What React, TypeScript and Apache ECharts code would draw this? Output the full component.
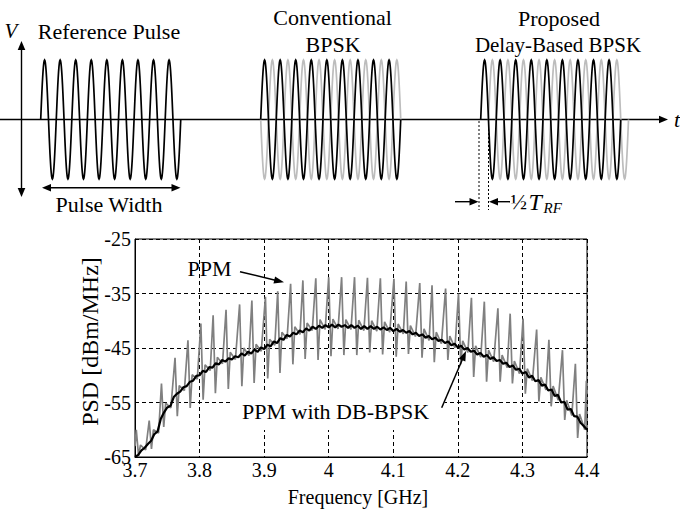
import React, { useEffect, useRef } from 'react';
import * as echarts from 'echarts';

// ---------- PSD data ----------
const xTicks = [3.7, 3.8, 3.9, 4.0, 4.1, 4.2, 4.3, 4.4];
const yTicks = [-65, -55, -45, -35, -25];

// PPM with DB-BPSK (black), sampled every 0.005 GHz from 3.700 GHz
const dbStart = 3.7;
const dbStep = 0.005;
const dbBpskValues = [
  -65.0, -64.6, -63.8, -63.3, -62.6, -62.0, -60.8, -60.3, -58.0, -56.8,
  -55.9, -55.6, -54.0, -53.4, -53.0, -52.2, -52.0, -51.2, -51.0, -50.1,
  -50.0, -49.2, -49.4, -48.5, -48.6, -47.8, -48.0, -47.2, -47.5, -46.9,
  -47.1, -46.5, -46.7, -46.0, -46.4, -45.7, -46.0, -45.3, -45.7, -44.9,
  -45.2, -44.4, -44.7, -43.8, -44.1, -43.2, -43.5, -42.6, -42.9, -42.2,
  -42.5, -41.8, -42.1, -41.4, -41.8, -41.1, -41.5, -40.9, -41.3, -40.8,
  -41.2, -40.7, -41.2, -40.7, -41.1, -40.8, -41.3, -40.8, -41.3, -40.9,
  -41.5, -41.0, -41.5, -41.0, -41.5, -41.1, -41.6, -41.2, -41.7, -41.3,
  -41.9, -41.5, -42.0, -41.7, -42.2, -41.9, -42.5, -42.2, -42.8, -42.5,
  -43.1, -42.8, -43.4, -43.1, -43.7, -43.5, -44.1, -43.8, -44.5, -44.2,
  -44.9, -44.6, -45.3, -45.0, -45.7, -45.5, -46.2, -45.9, -46.6, -46.3,
  -47.0, -46.7, -47.4, -47.2, -47.9, -47.7, -48.5, -48.2, -49.0, -48.8,
  -49.7, -49.4, -50.4, -50.1, -51.1, -50.9, -51.9, -51.7, -52.8, -52.6,
  -53.8, -53.6, -55.0, -54.9, -56.3, -56.2, -57.5, -57.6, -58.7, -59.3,
  -60.0,
];

// PPM (gray): one spike per period
const ppmSpikeFreq = [
  3.702, 3.722, 3.741, 3.762, 3.782, 3.802, 3.821, 3.841, 3.862, 3.881,
  3.902, 3.921, 3.941, 3.960, 3.980, 4.000, 4.020, 4.040, 4.060, 4.080,
  4.101, 4.120, 4.141, 4.160, 4.181, 4.201, 4.221, 4.241, 4.262, 4.281,
  4.301, 4.322, 4.341, 4.362, 4.382, 4.399,
];
const ppmPeak = [
  -60.0, -58.3, -51.5, -46.8, -43.6, -40.5, -39.0, -38.0, -37.0, -36.3,
  -35.6, -34.6, -33.2, -32.6, -32.2, -32.0, -32.0, -32.0, -32.1, -32.2,
  -32.3, -32.8, -33.1, -33.5, -34.1, -35.0, -35.8, -36.5, -37.7, -38.7,
  -39.6, -41.6, -43.5, -45.4, -47.9, -51.0,
];
const ppmDip = [
  -64.8, -63.5, -59.5, -57.5, -56.0, -54.5, -53.3, -52.5, -52.0, -51.4,
  -50.6, -49.6, -48.0, -47.0, -47.2, -46.5, -46.3, -46.3, -45.8, -46.2,
  -46.6, -46.1, -46.8, -47.6, -47.2, -48.0, -50.3, -51.2, -51.2, -51.5,
  -53.4, -54.8, -55.7, -58.2, -61.5,
];
const ppmRise = [
  -62.8, -60.0, -55.1, -51.9, -49.9, -48.1, -46.7, -45.8, -45.0, -44.3,
  -43.4, -42.1, -41.1, -40.4, -39.8, -39.7, -39.8, -39.9, -40.0, -40.2,
  -40.6, -40.9, -41.5, -42.1, -42.8, -43.7, -44.6, -45.4, -46.3, -47.4,
  -48.8, -50.4, -52.0, -54.6, -57.1,
];
const ppmNotch = [
  -63.7, -60.6, -56.0, -52.8, -50.7, -49.1, -47.9, -47.1, -46.4, -45.6,
  -44.5, -43.3, -42.5, -41.8, -41.6, -41.5, -41.6, -41.8, -41.9, -42.1,
  -42.4, -42.9, -43.6, -44.2, -45.0, -45.8, -46.7, -47.5, -48.6, -49.7,
  -51.0, -52.7, -54.6, -57.4, -60.0,
];
const ppmFirst = [3.7, -63.0];
const ppmLast = [4.4, -53.5];

// ---------- illustration (top) ----------
const pulseCycles = 9;

const SERIF = '"Liberation Serif", "Times New Roman", Times, serif';

function sineWave(x0: number, cycles: number, period: number, amp: number, yc: number, sign: number) {
  const pts: number[][] = [];
  const per = 40;
  const n = cycles * per;
  for (let i = 0; i <= n; i++) {
    const t = i / per;
    pts.push([x0 + t * period, yc - sign * amp * Math.sin(2 * Math.PI * t)]);
  }
  return pts;
}

function arrowHead(x1: number, y1: number, x2: number, y2: number, len: number, half: number) {
  const dx = x2 - x1, dy = y2 - y1;
  const L = Math.sqrt(dx * dx + dy * dy);
  const ux = dx / L, uy = dy / L;
  const bx = x2 - ux * len, by = y2 - uy * len;
  return [[x2, y2], [bx - uy * half, by + ux * half], [bx + uy * half, by - ux * half]];
}

function arrow(x1: number, y1: number, x2: number, y2: number, len = 9, half = 3.6, w = 1.4) {
  const dx = x2 - x1, dy = y2 - y1;
  const L = Math.sqrt(dx * dx + dy * dy);
  const ex = x2 - (dx / L) * (len - 1), ey = y2 - (dy / L) * (len - 1);
  return [
    { type: 'line', z: 10, silent: true, shape: { x1, y1, x2: ex, y2: ey }, style: { stroke: '#000', lineWidth: w } },
    { type: 'polygon', z: 10, silent: true, shape: { points: arrowHead(x1, y1, x2, y2, len, half) }, style: { fill: '#000' } },
  ];
}

function txt(text: string, x: number, y: number, size: number, opts: any = {}) {
  return {
    type: 'text', z: 10, silent: true, x, y,
    rotation: opts.rotation || 0,
    style: {
      text, fill: '#000', fontSize: size, fontFamily: SERIF,
      align: opts.align || 'center', verticalAlign: 'middle',
      textAlign: opts.align || 'center', textVerticalAlign: 'middle',
      fontStyle: opts.italic ? 'italic' : 'normal',
    },
  };
}

export default function App() {
  const ref = useRef<HTMLDivElement>(null);

  useEffect(() => {
    document.body.style.margin = '0';
    if (!ref.current) return;
    const chart = echarts.init(ref.current, null, { renderer: 'svg' });

    const dbData = dbBpskValues.map((v, i) => [dbStart + i * dbStep, v]);
    const ppmData: number[][] = [ppmFirst];
    ppmSpikeFreq.forEach((f, i) => {
      ppmData.push([f, ppmPeak[i]]);
      if (i < ppmDip.length) {
        ppmData.push([f + 0.0035, ppmDip[i]]);
        ppmData.push([f + 0.0065, ppmRise[i]]);
        ppmData.push([f + 0.0145, ppmNotch[i]]);
      }
    });
    ppmData.push(ppmLast);

    const yc = 119.5, amp = 59.5, period = 15.56;
    const waveBlack = { stroke: '#000', lineWidth: 1.7, fill: null };
    const waveGray = { stroke: '#bdbdbd', lineWidth: 1.7, fill: null };
    const poly = (pts: number[][], style: any) => ({ type: 'polyline', z: 5, silent: true, shape: { points: pts }, style });

    const graphics: any[] = [
      // time axis
      { type: 'line', z: 4, silent: true, shape: { x1: 0, y1: yc, x2: 660, y2: yc }, style: { stroke: '#000', lineWidth: 1.4 } },
      { type: 'polygon', z: 4, silent: true, shape: { points: arrowHead(600, yc, 668, yc, 9, 3.8) }, style: { fill: '#000' } },
      // voltage axis
      { type: 'line', z: 4, silent: true, shape: { x1: 21.5, y1: 48, x2: 21.5, y2: 190 }, style: { stroke: '#000', lineWidth: 1.4 } },
      { type: 'polygon', z: 4, silent: true, shape: { points: arrowHead(21.5, 100, 21.5, 41, 9, 3.8) }, style: { fill: '#000' } },
      { type: 'polygon', z: 4, silent: true, shape: { points: arrowHead(21.5, 100, 21.5, 197, 9, 3.8) }, style: { fill: '#000' } },
      // reference pulse
      poly(sineWave(40.7, pulseCycles, period, amp, yc, 1), waveBlack),
      // conventional BPSK
      poly(sineWave(260.7, pulseCycles, period, amp, yc, -1), waveGray),
      poly(sineWave(260.7, pulseCycles, period, amp, yc, 1), waveBlack),
      // delay-based BPSK
      poly(sineWave(480.7 + period / 2, pulseCycles, period, amp, yc, 1), waveGray),
      poly(sineWave(480.7, pulseCycles, period, amp, yc, 1), waveBlack),
      // pulse width arrow
      { type: 'line', z: 4, silent: true, shape: { x1: 48, y1: 187.7, x2: 174, y2: 187.7 }, style: { stroke: '#000', lineWidth: 1.4 } },
      { type: 'polygon', z: 4, silent: true, shape: { points: arrowHead(100, 187.7, 42, 187.7, 9, 3.8) }, style: { fill: '#000' } },
      { type: 'polygon', z: 4, silent: true, shape: { points: arrowHead(100, 187.7, 180.5, 187.7, 9, 3.8) }, style: { fill: '#000' } },
      // dotted markers
      { type: 'line', z: 4, silent: true, shape: { x1: 479, y1: 121, x2: 479, y2: 210 }, style: { stroke: '#000', lineWidth: 1, lineDash: [2, 2] } },
      { type: 'line', z: 4, silent: true, shape: { x1: 488.5, y1: 121, x2: 488.5, y2: 210 }, style: { stroke: '#000', lineWidth: 1, lineDash: [2, 2] } },
      ...arrow(455, 201.7, 478.5, 201.7, 9, 3.8, 1.4),
      ...arrow(510, 201.7, 489, 201.7, 9, 3.8, 1.4),
      // labels
      txt('V', 11, 31, 21, { italic: true }),
      txt('Reference Pulse', 109, 31.5, 22),
      txt('Pulse Width', 109, 204, 22),
      txt('Conventional', 332.5, 17.5, 22),
      txt('BPSK', 333, 44.5, 22),
      txt('Proposed', 559, 18, 22),
      txt('Delay-Based BPSK', 558, 45, 21),
      txt('t', 677, 119, 22, { italic: true }),
      txt('\u00BD', 510.5, 201, 22, { align: 'left' }),
      txt('T', 528.5, 201.5, 24, { align: 'left', italic: true }),
      txt('RF', 543.5, 207.5, 15, { align: 'left', italic: true }),
      // y axis title
      txt('PSD [dBm/MHz]', 90, 341.5, 24, { rotation: Math.PI / 2 }),
      // PSD annotations
      txt('PPM', 209.5, 268.5, 22),
      ...arrow(240, 271.7, 284, 282.3, 10, 3.6, 1.5),
      { type: 'rect', z: 1, silent: true, shape: { x: 232.5, y: 393, width: 212, height: 37 }, style: { fill: '#fff' } },
      txt('PPM with DB-BPSK', 335.5, 411.5, 22),
      ...arrow(441.7, 407.7, 466, 351, 10, 3.6, 1.5),
    ];

    chart.setOption({
      animation: false,
      backgroundColor: '#fff',
      grid: {
        left: 135, right: 93, top: 239, bottom: 56,
        show: true, borderColor: '#000', borderWidth: 1, backgroundColor: 'transparent',
        containLabel: false,
      },
      xAxis: {
        type: 'value', min: xTicks[0], max: xTicks[xTicks.length - 1], interval: 0.1,
        name: 'Frequency [GHz]', nameLocation: 'middle', nameGap: 30,
        nameTextStyle: { fontSize: 20, fontFamily: SERIF, color: '#000', padding: [0, 6, 0, 0] },
        axisLine: { show: true, lineStyle: { color: '#000', width: 1 } },
        axisTick: { show: false },
        axisLabel: {
          fontSize: 20, fontFamily: SERIF, color: '#000', margin: 3,
          showMinLabel: true, showMaxLabel: true,
          formatter: (v: number) => String(Math.round(v * 10) / 10),
        },
        splitLine: { show: true, lineStyle: { color: '#000', width: 1, type: [4, 3] } },
      },
      yAxis: {
        type: 'value', min: yTicks[0], max: yTicks[yTicks.length - 1], interval: 10,
        axisLine: { show: true, lineStyle: { color: '#000', width: 1 } },
        axisTick: { show: false },
        axisLabel: { fontSize: 20, fontFamily: SERIF, color: '#000', margin: 4 },
        splitLine: { show: true, lineStyle: { color: '#000', width: 1, type: [4, 3] } },
      },
      series: [
        {
          name: 'PPM', type: 'line', data: ppmData, showSymbol: false, symbol: 'none',
          lineStyle: { color: '#808080', width: 1.7 }, z: 2, clip: true,
        },
        {
          name: 'PPM with DB-BPSK', type: 'line', data: dbData, showSymbol: false, symbol: 'none',
          lineStyle: { color: '#000', width: 2.2 }, z: 3, clip: true,
        },
      ],
      graphic: graphics,
    });

    return () => chart.dispose();
  }, []);

  return <div ref={ref} style={{ width: 680, height: 513 }} />;
}
